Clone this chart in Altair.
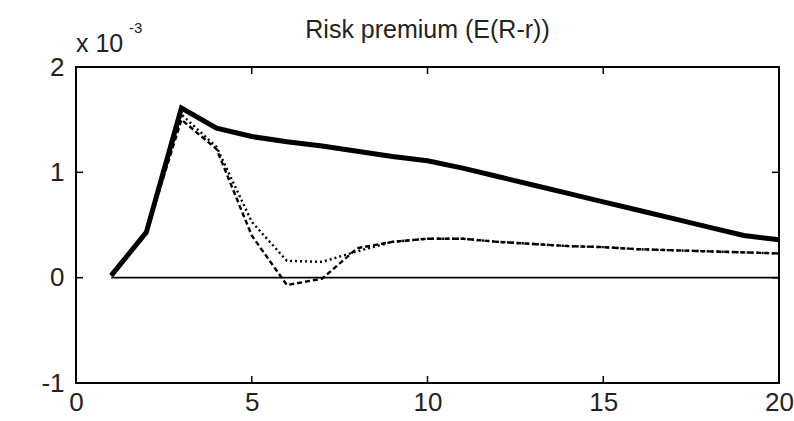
import altair as alt
import pandas as pd

periods = list(range(1, 21))
# values in units of 1e-3
premium_solid = [0.02, 0.43, 1.61, 1.42, 1.34, 1.29, 1.25, 1.20, 1.15, 1.11,
                 1.04, 0.96, 0.88, 0.80, 0.72, 0.64, 0.56, 0.48, 0.40, 0.36]
premium_dotted = [0.02, 0.43, 1.55, 1.24, 0.53, 0.16, 0.15, 0.25, 0.34, 0.37,
                  0.37, 0.34, 0.32, 0.30, 0.29, 0.27, 0.26, 0.25, 0.24, 0.23]
premium_dashed = [0.02, 0.43, 1.50, 1.22, 0.40, -0.07, -0.01, 0.28, 0.34, 0.37,
                  0.37, 0.34, 0.32, 0.30, 0.29, 0.27, 0.26, 0.25, 0.24, 0.23]
zero_line = [0.0] * 20

x_ticks = [0, 5, 10, 15, 20]
y_ticks = [-1, 0, 1, 2]

FONT = "Liberation Sans Narrow, Liberation Sans, Arial, sans-serif"
W, H = 703, 316

df = pd.DataFrame({
    "t": periods,
    "solid": premium_solid,
    "dotted": premium_dotted,
    "dashed": premium_dashed,
    "zero": zero_line,
})

xs = alt.Scale(domain=[0, 20], nice=False, zero=False)
ys = alt.Scale(domain=[-1, 2], nice=False, zero=False)

xaxis = alt.Axis(values=x_ticks, tickSize=0, domain=False, grid=False,
                 labelFontSize=26, labelFont=FONT, labelColor="#222",
                 labelPadding=6, title=None, labelFlush=False,
                 labelExpr="'' + datum.value")
yaxis = alt.Axis(values=y_ticks, tickSize=0, domain=False, grid=False,
                 labelFontSize=26, labelFont=FONT, labelColor="#222",
                 labelPadding=12, title=None, labelExpr="'' + datum.value")

base = alt.Chart(df)

zero = base.mark_line(color="black", strokeWidth=1.8).encode(
    x=alt.X("t:Q", scale=xs, axis=xaxis),
    y=alt.Y("zero:Q", scale=ys, axis=yaxis),
)
dashed = base.mark_line(color="black", strokeWidth=2.4, strokeDash=[5, 3]).encode(
    x=alt.X("t:Q", scale=xs), y=alt.Y("dashed:Q", scale=ys))
dotted = base.mark_line(color="black", strokeWidth=2.4, strokeDash=[2, 3]).encode(
    x=alt.X("t:Q", scale=xs), y=alt.Y("dotted:Q", scale=ys))
solid = base.mark_line(color="black", strokeWidth=5).encode(
    x=alt.X("t:Q", scale=xs), y=alt.Y("solid:Q", scale=ys))

frame = alt.Chart(pd.DataFrame({"f": [0]})).mark_rect(
    fill=None, stroke="black", strokeWidth=2).encode(
    x=alt.value(0), x2=alt.value(W), y=alt.value(0), y2=alt.value(H))

xt = alt.Chart(pd.DataFrame({"v": x_ticks}))
yt = alt.Chart(pd.DataFrame({"v": y_ticks}))
tick_bottom = xt.mark_rule(color="black", strokeWidth=1.5).encode(
    x=alt.X("v:Q", scale=xs), y=alt.value(H), y2=alt.value(H - 7))
tick_top = xt.mark_rule(color="black", strokeWidth=1.5).encode(
    x=alt.X("v:Q", scale=xs), y=alt.value(0), y2=alt.value(7))
tick_left = yt.mark_rule(color="black", strokeWidth=1.5).encode(
    y=alt.Y("v:Q", scale=ys), x=alt.value(0), x2=alt.value(7))
tick_right = yt.mark_rule(color="black", strokeWidth=1.5).encode(
    y=alt.Y("v:Q", scale=ys), x=alt.value(W), x2=alt.value(W - 7))

txt = alt.Chart(pd.DataFrame({"s": ["x 10"], "e": ["-3"],
                              "title": ["Risk premium (E(R-r))"]}))
exp_txt = txt.mark_text(font=FONT, fontSize=25, align="left", baseline="alphabetic",
                        color="#222").encode(
    text="s:N", x=alt.value(0), y=alt.value(-15))
exp_sup = txt.mark_text(font=FONT, fontSize=15, align="left", baseline="alphabetic",
                        color="#222").encode(
    text="e:N", x=alt.value(53), y=alt.value(-34))
title = txt.mark_text(font=FONT, fontSize=25, align="center", baseline="alphabetic",
                      color="#222").encode(
    text="title:N", x=alt.value(W / 2), y=alt.value(-29))

chart = alt.layer(
    zero, dashed, dotted, solid, frame,
    tick_bottom, tick_top, tick_left, tick_right,
    exp_txt, exp_sup, title,
).properties(
    width=W, height=H,
    autosize=alt.AutoSizeParams(type="none"),
    padding={"left": 76, "top": 67, "right": 15, "bottom": 38},
).configure_view(strokeWidth=0).configure(background="white")

chart.save("out.html", embed_options={"renderer": "svg", "actions": False})
